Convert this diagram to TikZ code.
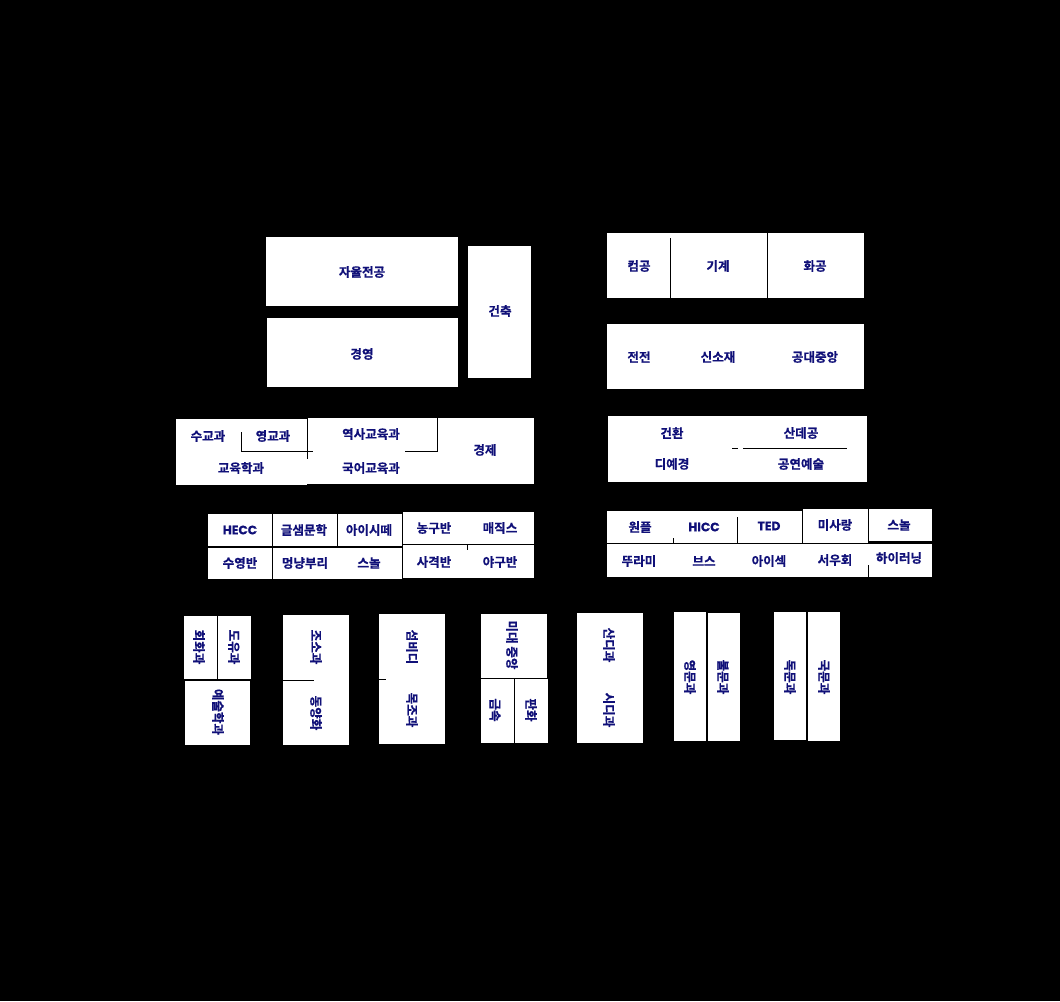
\documentclass[tikz,border=0pt]{standalone}
\usepackage{fontspec}
\setmainfont{Noto Sans CJK KR}[BoldFont={Noto Sans CJK KR Bold},BoldFeatures={FakeBold=0.6}]
\newfontfamily\latinfont{Poppins}[BoldFont={* Bold},BoldFeatures={FakeBold=0.4}]
\definecolor{ink}{RGB}{16,16,120}
\begin{document}
\begin{tikzpicture}[x=0.75pt,y=-0.75pt,
  lbl/.style={text=ink,font=\fontsize{9.4}{10}\selectfont\bfseries,inner sep=0pt},
  latin/.style={lbl,font=\fontsize{9.2}{10}\selectfont\latinfont\bfseries},
  vlbl/.style={lbl,rotate=-90},
  gap/.style={draw=black,line width=0.75pt}]
\fill[black] (0,0) rectangle (1060,1001);
\useasboundingbox (0,0) rectangle (1060,1001);
% ---------- top left
\fill[white] (266,237) rectangle (458,306);
\fill[white] (267,318) rectangle (458,387);
\fill[white] (468,246) rectangle (531,378);
\node[lbl] (jayul) at (362,272) {자율전공};
\node[lbl] (gyeong) at (362,354) {경영};
\node[lbl] (geonchuk) at (500,311) {건축};
% ---------- education group
\fill[white] (176,419) rectangle (307,485);
\fill[white] (307,418) rectangle (534,484);
\draw[gap] (241,432) -- (241,451) -- (313,451);
\draw[gap] (307,418) -- (307,459);
\draw[gap] (405,451) -- (437,451) -- (437,418);
\node[lbl] (sugyo) at (208,436) {수교과};
\node[lbl] (yeonggyo) at (273,436) {영교과};
\node[lbl] (yeoksa) at (371,434) {역사교육과};
\node[lbl] (gyoyuk) at (241,468) {교육학과};
\node[lbl] (gugeo) at (371,468) {국어교육과};
\node[lbl] (gyeongje) at (485,450) {경제};
% ---------- top right
\fill[white] (607,233) rectangle (864,298);
\draw[gap] (670,238) -- (670,298);
\draw[gap] (767,233) -- (767,298);
\node[lbl] (keomgong) at (639,266) {컴공};
\node[lbl] (gigye) at (718,266) {기계};
\node[lbl] (hwagong) at (815,266) {화공};
\fill[white] (607,324) rectangle (864,389);
\node[lbl] (jeonjeon) at (639,357) {전전};
\node[lbl] (sinsojae) at (718,357) {신소재};
\node[lbl] (gongdae) at (815,357) {공대중앙};
\fill[white] (608,416) rectangle (867,482);
\draw[gap] (743,448) -- (847,448);
\draw[gap] (732,448) -- (738,448);
\node[lbl] (geonhwan) at (672,433) {건환};
\node[lbl] (sandegong) at (801,433) {산데공};
\node[lbl] (diye) at (672,464) {디예경};
\node[lbl] (gongyeon) at (801,464) {공연예술};
% ---------- clubs left
\fill[white] (208,514) rectangle (272,546);
\fill[white] (273,514) rectangle (337,546);
\fill[white] (338,514) rectangle (402,546);
\fill[white] (403,512) rectangle (534,544);
\fill[white] (403,545) rectangle (534,578);
\fill[white] (208,548) rectangle (272,579);
\fill[white] (273,548) rectangle (402,579);
\draw[gap] (467,545) -- (467,550);
\node[latin] (hecc) at (240,530) {HECC};
\node[lbl] (geulsaem) at (304,530) {글샘문학};
\node[lbl] (aisite) at (369,530) {아이시떼};
\node[lbl] (nonggu) at (434,528) {농구반};
\node[lbl] (maejik) at (500,528) {매직스};
\node[lbl] (suyeong) at (240,563) {수영반};
\node[lbl] (meong) at (305,563) {멍냥부리};
\node[lbl] (seunol) at (369,563) {스놀};
\node[lbl] (sagyeok) at (434,562) {사격반};
\node[lbl] (yagu) at (500,562) {야구반};
% ---------- clubs right
\fill[white] (607,511) rectangle (802,543);
\fill[white] (802,509) rectangle (868,543);
\fill[white] (868,509) rectangle (932,541);
\fill[white] (607,543) rectangle (932,577);
\draw[gap] (607,543.5) -- (932,543.5);
\draw[gap] (737,517) -- (737,543);
\draw[gap] (673,538) -- (673,543);
\draw[gap] (802,509) -- (802,543);
\draw[gap] (868,509) -- (868,543);
\draw[gap] (868,565) -- (868,577);
\node[lbl] (wonpeul) at (640,527) {원플};
\node[latin] (hicc) at (704,527) {HICC};
\node[latin] (ted) at (769,526) {TED};
\node[lbl] (misarang) at (835,525) {미사랑};
\node[lbl] (seunol2) at (899,525) {스놀};
\node[lbl] (ttu) at (639,561) {뚜라미};
\node[lbl] (beuseu) at (704,561) {브스};
\node[lbl] (aisek) at (769,561) {아이섹};
\node[lbl] (seou) at (835,560) {서우회};
\node[lbl] (haireo) at (899,558) {하이러닝};
% ---------- art departments
\fill[white] (184,616) rectangle (217,679);
\fill[white] (218,616) rectangle (251,679);
\fill[white] (185,681) rectangle (250,745);
\node[vlbl] (hoehwa) at (199,647) {회화과};
\node[vlbl] (doyu) at (234,647) {도유과};
\node[vlbl] (yesul) at (218,712) {예술학과};
\fill[white] (283,615) rectangle (349,745);
\draw[gap] (283,680) -- (314,680);
\node[vlbl] (joso) at (316,647) {조소과};
\node[vlbl] (dongyang) at (316,713) {동양화};
\fill[white] (379,614) rectangle (445,744);
\draw[gap] (379,679) -- (386,679);
\node[vlbl] (seombidi) at (412,647) {섬비디};
\node[vlbl] (mokjo) at (412,710) {목조과};
\fill[white] (481,614) rectangle (547,678);
\fill[white] (481,679) rectangle (514,743);
\fill[white] (515,679) rectangle (548,743);
\node[vlbl] (midae) at (512,645) {미대 중앙};
\node[vlbl] (geumsok) at (495,710) {금속};
\node[vlbl] (panhwa) at (531,710) {판화};
\fill[white] (577,613) rectangle (643,743);
\node[vlbl] (sandi) at (609,645) {산디과};
\node[vlbl] (sidi) at (609,710) {시디과};
% ---------- language departments
\fill[white] (674,612) rectangle (706,741);
\fill[white] (708,613) rectangle (740,741);
\fill[white] (774,612) rectangle (806,740);
\fill[white] (808,612) rectangle (840,741);
\node[vlbl] (yeongmun) at (690,677) {영문과};
\node[vlbl] (bulmun) at (723,677) {불문과};
\node[vlbl] (dokmun) at (790,677) {독문과};
\node[vlbl] (gukmun) at (824,677) {국문과};
\end{tikzpicture}
\end{document}
